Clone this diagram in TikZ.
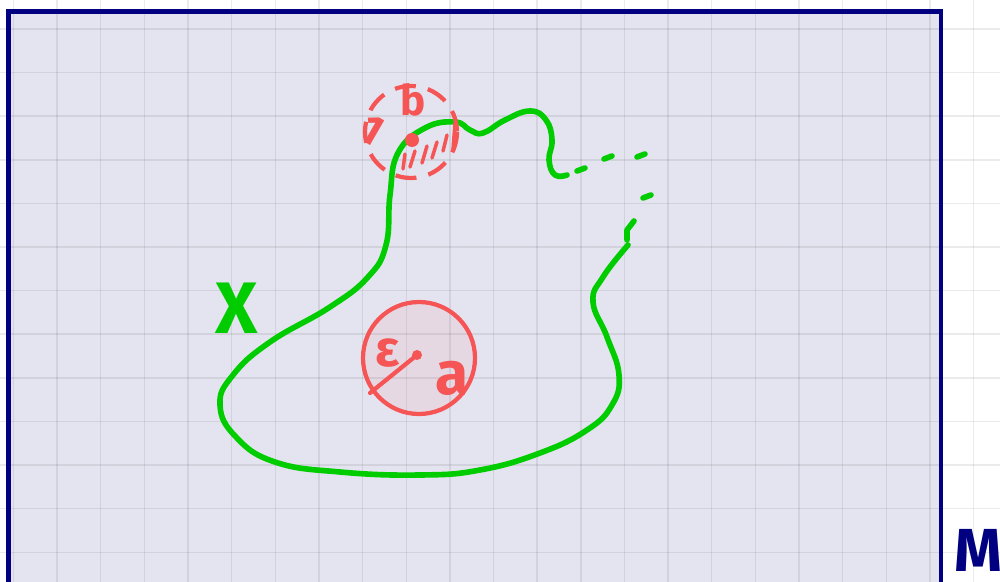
\documentclass[tikz,border=0pt]{standalone}
\usepackage{fontspec}
\setmainfont{Fira Sans}
\definecolor{navy}{RGB}{0,0,128}
\definecolor{lav}{RGB}{228,228,240}
\definecolor{pengreen}{RGB}{0,204,0}
\definecolor{penred}{RGB}{245,85,85}
\tikzset{pen/.style={line width=1.6pt,line cap=round,line join=round},
  gridline/.style={black,opacity=0.08,line width=0.4pt}}
\begin{document}
\begin{tikzpicture}[x=0.01cm,y=-0.01cm]
        \useasboundingbox (0,0) rectangle (1000,582);
        \fill[lav] (8.5,11.5) rectangle (941,600);
        \foreach \x in {0,...,22}{\draw[gridline] ({13.35+43.65*\x},0) -- ({13.35+43.65*\x},582);}
        \foreach \y in {0,...,13}{\draw[gridline] (0,{29+43.6*\y}) -- (1000,{29+43.6*\y});}
        \draw[navy,line width=1.4pt] (8.5,600) -- (8.5,11.5) -- (941,11.5) -- (941,600);
        % the set X
        \draw[pen,pengreen] plot[smooth,tension=0.75] coordinates {(628,245) (603,277) (593,302) (607,337) (619,375) (612,405) (587,430) (540,453) (480,470) (420,475) (340,472) (275,462) (236,437) (220,405) (233,375) (270,342) (330,307) (368,277) (386,245) (390,195) (398,153) (425,128) (455,122) (470,130) (483,133) (505,120) (530,111) (546,120) (552,140) (549,160) (555,175) (567,175)};
        \foreach \a/\b in {577/171,604/159,637/157,643/198}{\draw[pen,pengreen] (\a,\b) -- ++(8,-3);}
        \draw[pen,pengreen] (627,240) -- (627,230) -- (634,221);
        \node[text=pengreen,font=\huge\bfseries] (xlab) at (237,308) {X};
        % ball round b
        \draw[penred,line width=1.2pt,dash pattern=on 6pt off 3.5pt] (411,132) circle (46);
        \foreach \a/\b/\c/\d in {405/154/403/169,415/151/410/167,427/146/422/163,437/142/432/158,447/135/443/151,455/123/453/150}{\draw[pen,penred,line width=1pt] (\a,\b) -- (\c,\d);}
        \fill[penred] (412,140) circle (7);
        \node[text=penred,font=\large\bfseries,rotate=-30] (one) at (372,130) {1};
        \node[text=penred,font=\large\bfseries] (blab) at (413,100) {b};
        % ball round a
        \draw[penred,line width=1.2pt,fill=penred,fill opacity=0.08] (419,358) circle (56);
        \coordinate (rad) at (370,393);
        \fill[penred] (417,355) circle (5) coordinate (acen);
        \draw[pen,penred,line width=1.2pt] (rad) -- (acen);
        \node[text=penred,font=\Large\bfseries] (eps) at (388,353) {ε};
        \node[text=penred,font=\LARGE\bfseries] (alab) at (452,378) {a};
        \node[text=navy,font=\LARGE\bfseries] (mlab) at (978,550) {M};
\end{tikzpicture}
\end{document}
